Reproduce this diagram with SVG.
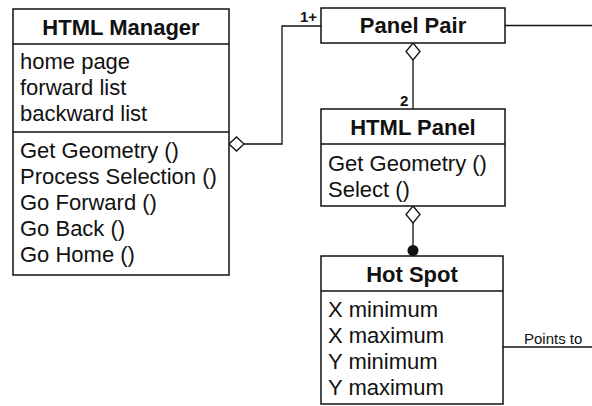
<svg xmlns="http://www.w3.org/2000/svg" width="592" height="406" viewBox="0 0 592 406">
<style>
.box{fill:#fff;stroke:#111;stroke-width:1.5}
.sep{stroke:#111;stroke-width:1.3}
.ln{fill:none;stroke:#111;stroke-width:1.3}
.dia{fill:#fff;stroke:#111;stroke-width:1.3}
.t{font-family:"Liberation Sans",Arial,sans-serif;font-size:22px;fill:#111}
.h{font-family:"Liberation Sans",Arial,sans-serif;font-size:22px;font-weight:bold;fill:#111;text-anchor:middle}
.s{font-family:"Liberation Sans",Arial,sans-serif;font-size:15px;fill:#111}
</style>
<rect width="592" height="406" fill="#fff"/>
<g id="connectors">
<polyline class="ln" points="244,144 282,144 282,26 321,26"/>
<polygon class="dia" points="229,144 236.5,137 244,144 236.5,151"/>
<line class="ln" x1="413" y1="60" x2="413" y2="109"/>
<polygon class="dia" points="413,43 420,51.5 413,60 406,51.5"/>
<line class="ln" x1="413" y1="223" x2="413" y2="250"/>
<polygon class="dia" points="413,206 420,214.5 413,223 406,214.5"/>
<circle cx="413" cy="250.5" r="5.5" fill="#111"/>
<line class="ln" x1="505" y1="25.5" x2="592" y2="25.5"/>
<line class="ln" x1="503" y1="347" x2="592" y2="347"/>
<text class="s" x="300" y="22" font-weight="bold">1+</text>
<text class="s" x="400" y="106" font-weight="bold">2</text>
<text class="s" x="524" y="344">Points to</text>
</g>
<g id="html-manager">
<rect class="box" x="13" y="9" width="216" height="266"/>
<line class="sep" x1="13" y1="44" x2="229" y2="44"/>
<line class="sep" x1="13" y1="132" x2="229" y2="132"/>
<text class="h" x="121" y="35">HTML Manager</text>
<text class="t" x="20" y="69">home page</text>
<text class="t" x="20" y="95">forward list</text>
<text class="t" x="20" y="121">backward list</text>
<text class="t" x="20" y="158">Get Geometry ()</text>
<text class="t" x="20" y="184">Process Selection ()</text>
<text class="t" x="20" y="210">Go Forward ()</text>
<text class="t" x="20" y="236">Go Back ()</text>
<text class="t" x="20" y="262">Go Home ()</text>
</g>
<g id="panel-pair">
<rect class="box" x="321" y="8" width="184" height="35"/>
<text class="h" x="413" y="33">Panel Pair</text>
</g>
<g id="html-panel">
<rect class="box" x="321" y="109" width="184" height="97"/>
<line class="sep" x1="321" y1="144" x2="505" y2="144"/>
<text class="h" x="413" y="135">HTML Panel</text>
<text class="t" x="328" y="171">Get Geometry ()</text>
<text class="t" x="328" y="197">Select ()</text>
</g>
<g id="hot-spot">
<rect class="box" x="321" y="256" width="182" height="148"/>
<line class="sep" x1="321" y1="291" x2="503" y2="291"/>
<text class="h" x="412" y="282">Hot Spot</text>
<text class="t" x="328" y="317">X minimum</text>
<text class="t" x="328" y="343">X maximum</text>
<text class="t" x="328" y="369">Y minimum</text>
<text class="t" x="328" y="395">Y maximum</text>
</g>
</svg>
